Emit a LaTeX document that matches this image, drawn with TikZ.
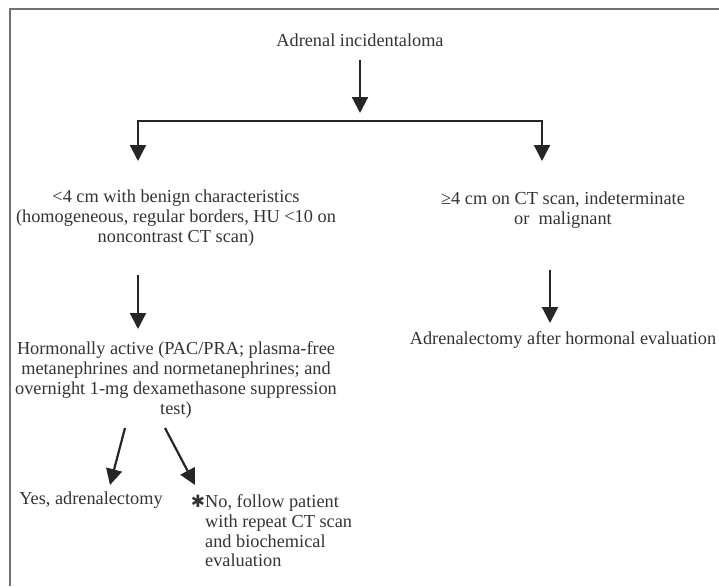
\documentclass[tikz,border=0pt]{standalone}
\usepackage{fontspec}
\setmainfont{Liberation Serif}
\newfontfamily\symfont{DejaVu Sans}
\usetikzlibrary{arrows.meta}
\tikzset{
  txt/.style={inner sep=0pt, align=center, font=\fontsize{18.3}{19.7}\selectfont, text=black!80},
  arr/.style={line width=2.2pt, draw=black!85, -{Triangle[width=16pt,length=16pt]}},
  frame/.style={line width=2.6pt, draw=black!55}
}
\begin{document}
\begin{tikzpicture}[x=1pt,y=-1pt]
\useasboundingbox (0,0) rectangle (719,586);
\draw[frame] (10,586) -- (10,9) -- (719,9);

\node[txt] (top) at (360,40) {Adrenal incidentaloma};
\node[txt] (small) at (176,218) {<4 cm with benign characteristics\\(homogeneous, regular borders, HU <10 on\\noncontrast CT scan)};
\node[txt] (large) at (563,210) {≥4 cm on CT scan, indeterminate\\or\ \ malignant};
\node[txt] (horm) at (176,380) {Hormonally active (PAC/PRA; plasma-free\\metanephrines and normetanephrines; and\\overnight 1-mg dexamethasone suppression\\test)};
\node[txt] (adx) at (563,340) {Adrenalectomy after hormonal evaluation};
\node[txt] (yes) at (91,500) {Yes, adrenalectomy};
\node[txt, align=left, anchor=west] (no) at (205,531) {\makebox[0pt][r]{\symfont\fontsize{17}{17}\selectfont ✱}No, follow patient\\with repeat CT scan\\and biochemical\\evaluation};

\coordinate (t1) at (360,60);
\coordinate (t2) at (360,113);
\coordinate (bm) at (360,121);
\coordinate (L1) at (138,161);
\coordinate (R1) at (542,161);
\coordinate (s1) at (138,275);
\coordinate (s2) at (138,329);
\coordinate (g1) at (550,270);
\coordinate (g2) at (550,323);
\coordinate (h1) at (125,428);
\coordinate (h2) at (110,485);
\coordinate (h3) at (165,428);
\coordinate (h4) at (195,485);

\draw[arr] (t1) -- (t2);
\draw[arr] (bm) -| (L1);
\draw[arr] (bm) -| (R1);
\draw[arr] (s1) -- (s2);
\draw[arr] (g1) -- (g2);
\draw[arr] (h1) -- (h2);
\draw[arr] (h3) -- (h4);
\end{tikzpicture}
\end{document}
